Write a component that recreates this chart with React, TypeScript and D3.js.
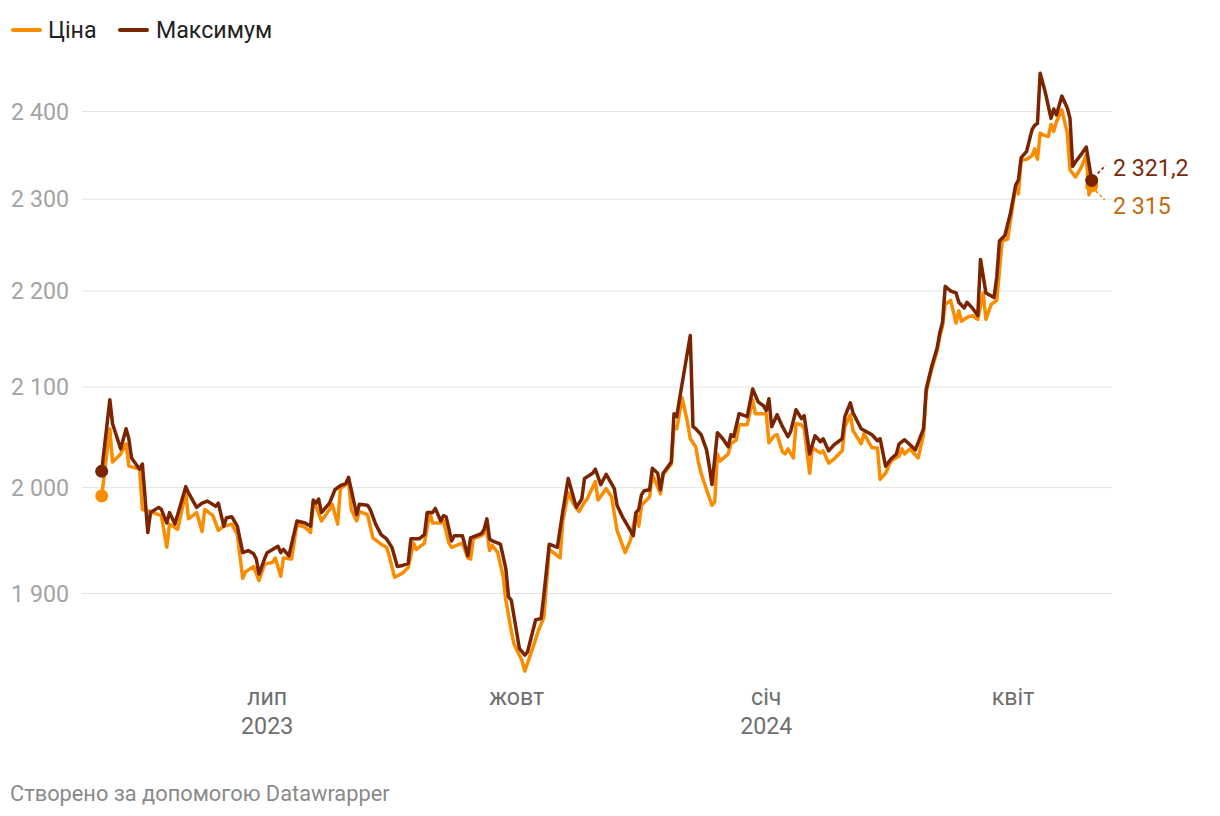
import React from "react";
import * as d3 from "d3";

// ---------- DATA ----------
const seriesNames = ["Ціна", "Максимум"];

const maxDates = [
  "2023-05-01","2023-05-04","2023-05-05","2023-05-08","2023-05-10","2023-05-11","2023-05-12","2023-05-15","2023-05-16","2023-05-18",
  "2023-05-19","2023-05-22","2023-05-23","2023-05-25","2023-05-26","2023-05-28","2023-06-01","2023-06-02","2023-06-05","2023-06-07",
  "2023-06-09","2023-06-12","2023-06-13","2023-06-15","2023-06-16","2023-06-18","2023-06-20","2023-06-22","2023-06-24","2023-06-26",
  "2023-06-27","2023-06-28","2023-06-30","2023-07-01","2023-07-03","2023-07-05","2023-07-06","2023-07-07","2023-07-09","2023-07-12",
  "2023-07-15","2023-07-17","2023-07-18","2023-07-19","2023-07-20","2023-07-21","2023-07-24","2023-07-26","2023-07-28","2023-07-30",
  "2023-07-31","2023-08-01","2023-08-03","2023-08-04","2023-08-07","2023-08-08","2023-08-10","2023-08-12","2023-08-14","2023-08-16",
  "2023-08-18","2023-08-20","2023-08-22","2023-08-23","2023-08-26","2023-08-28","2023-08-29","2023-08-31","2023-09-01","2023-09-03",
  "2023-09-04","2023-09-05","2023-09-07","2023-09-08","2023-09-11","2023-09-13","2023-09-14","2023-09-18","2023-09-19","2023-09-20",
  "2023-09-21","2023-09-22","2023-09-25","2023-09-27","2023-09-28","2023-09-29","2023-10-02","2023-10-04","2023-10-05","2023-10-08",
  "2023-10-10","2023-10-11","2023-10-13","2023-10-16","2023-10-18","2023-10-20","2023-10-22","2023-10-23","2023-10-25","2023-10-26",
  "2023-10-29","2023-10-30","2023-11-01","2023-11-03","2023-11-06","2023-11-07","2023-11-09","2023-11-11","2023-11-13","2023-11-14",
  "2023-11-15","2023-11-16","2023-11-17","2023-11-19","2023-11-20","2023-11-22","2023-11-23","2023-11-24","2023-11-27","2023-11-28",
  "2023-11-29","2023-11-30","2023-12-02","2023-12-04","2023-12-05","2023-12-06","2023-12-08","2023-12-10","2023-12-11","2023-12-12",
  "2023-12-13","2023-12-14","2023-12-16","2023-12-18","2023-12-19","2023-12-20","2023-12-22","2023-12-24","2023-12-25","2023-12-27",
  "2023-12-29","2023-12-31","2024-01-01","2024-01-02","2024-01-03","2024-01-05","2024-01-07","2024-01-09","2024-01-10","2024-01-12",
  "2024-01-14","2024-01-15","2024-01-17","2024-01-19","2024-01-21","2024-01-22","2024-01-24","2024-01-26","2024-01-29","2024-01-30",
  "2024-02-01","2024-02-02","2024-02-05","2024-02-07","2024-02-09","2024-02-11","2024-02-12","2024-02-14","2024-02-16","2024-02-18",
  "2024-02-19","2024-02-21","2024-02-23","2024-02-25","2024-02-28","2024-02-29","2024-03-02","2024-03-04","2024-03-05","2024-03-06",
  "2024-03-07","2024-03-09","2024-03-11","2024-03-12","2024-03-14","2024-03-15","2024-03-17","2024-03-19","2024-03-20","2024-03-22",
  "2024-03-25","2024-03-26","2024-03-27","2024-03-29","2024-03-31","2024-04-01","2024-04-02","2024-04-03","2024-04-04","2024-04-06",
  "2024-04-08","2024-04-09","2024-04-10","2024-04-11","2024-04-13","2024-04-15","2024-04-16","2024-04-17","2024-04-19","2024-04-21",
  "2024-04-22","2024-04-23","2024-04-24","2024-04-26","2024-04-28","2024-04-30"
];
const maxValues = [
  2016,2087,2063,2038,2058,2048,2029,2018,2023,1957,
  1976,1981,1979,1966,1976,1965,2001,1995,1981,1985,
  1987,1982,1985,1963,1971,1972,1963,1938,1940,1937,
  1932,1918,1932,1938,1941,1944,1938,1941,1935,1968,
  1966,1963,1988,1985,1989,1976,1985,1998,2002,2004,
  2010,1998,1974,1984,1983,1979,1965,1955,1951,1943,
  1925,1926,1928,1951,1951,1955,1976,1976,1980,1968,
  1973,1972,1949,1954,1954,1935,1952,1956,1960,1970,
  1951,1949,1946,1923,1897,1894,1850,1844,1847,1876,
  1877,1898,1946,1943,1977,2009,1990,1981,1989,2009,
  2014,2018,2003,2013,1999,1983,1972,1963,1954,1976,
  1979,1993,1997,1998,2019,2014,1998,2014,2025,2073,
  2070,2087,2120,2153,2060,2058,2052,2037,2021,2003,
  2028,2054,2048,2040,2052,2050,2073,2071,2070,2098,
  2085,2081,2076,2088,2060,2072,2060,2050,2055,2077,
  2068,2071,2033,2051,2045,2048,2036,2042,2048,2070,
  2084,2074,2058,2055,2052,2046,2048,2021,2028,2033,
  2043,2047,2042,2037,2058,2098,2121,2140,2156,2167,
  2205,2200,2198,2188,2182,2188,2182,2174,2234,2198,
  2193,2215,2254,2260,2284,2300,2316,2322,2347,2354,
  2379,2384,2386,2445,2421,2392,2403,2396,2418,2404,
  2392,2337,2342,2350,2359,2321.2
];

const priceDates = [
  "2023-05-01","2023-05-04","2023-05-05","2023-05-08","2023-05-10","2023-05-11","2023-05-15","2023-05-16","2023-05-19","2023-05-23",
  "2023-05-25","2023-05-26","2023-05-29","2023-06-01","2023-06-02","2023-06-05","2023-06-07","2023-06-08","2023-06-11","2023-06-13",
  "2023-06-15","2023-06-18","2023-06-20","2023-06-22","2023-06-23","2023-06-26","2023-06-28","2023-06-30","2023-07-03","2023-07-04",
  "2023-07-06","2023-07-07","2023-07-10","2023-07-12","2023-07-15","2023-07-17","2023-07-18","2023-07-19","2023-07-21","2023-07-24",
  "2023-07-25","2023-07-27","2023-07-28","2023-07-30","2023-07-31","2023-08-01","2023-08-03","2023-08-04","2023-08-07","2023-08-09",
  "2023-08-12","2023-08-14","2023-08-15","2023-08-17","2023-08-20","2023-08-22","2023-08-24","2023-08-25","2023-08-28","2023-08-30",
  "2023-08-31","2023-09-03","2023-09-04","2023-09-06","2023-09-07","2023-09-10","2023-09-11","2023-09-13","2023-09-14","2023-09-15",
  "2023-09-18","2023-09-20","2023-09-21","2023-09-22","2023-09-24","2023-09-26","2023-09-27","2023-09-29","2023-09-30","2023-10-03",
  "2023-10-04","2023-10-07","2023-10-09","2023-10-11","2023-10-13","2023-10-15","2023-10-17","2023-10-18","2023-10-20","2023-10-22",
  "2023-10-24","2023-10-26","2023-10-27","2023-10-30","2023-10-31","2023-11-03","2023-11-05","2023-11-07","2023-11-10","2023-11-12",
  "2023-11-14","2023-11-15","2023-11-16","2023-11-19","2023-11-20","2023-11-23","2023-11-24","2023-11-27","2023-11-28","2023-11-29",
  "2023-12-01","2023-12-03","2023-12-04","2023-12-06","2023-12-07","2023-12-08","2023-12-10","2023-12-12","2023-12-13","2023-12-14",
  "2023-12-15","2023-12-18","2023-12-19","2023-12-21","2023-12-22","2023-12-25","2023-12-27","2023-12-28","2024-01-01","2024-01-02",
  "2024-01-04","2024-01-05","2024-01-07","2024-01-08","2024-01-09","2024-01-11","2024-01-12","2024-01-14","2024-01-15","2024-01-17",
  "2024-01-18","2024-01-21","2024-01-22","2024-01-24","2024-01-26","2024-01-29","2024-01-30","2024-02-01","2024-02-02","2024-02-05",
  "2024-02-06","2024-02-09","2024-02-11","2024-02-12","2024-02-14","2024-02-16","2024-02-19","2024-02-20","2024-02-21","2024-02-23",
  "2024-02-26","2024-02-28","2024-02-29","2024-03-02","2024-03-04","2024-03-05","2024-03-06","2024-03-07","2024-03-09","2024-03-11",
  "2024-03-12","2024-03-13","2024-03-15","2024-03-17","2024-03-19","2024-03-21","2024-03-22","2024-03-24","2024-03-26","2024-03-28",
  "2024-03-30","2024-04-01","2024-04-02","2024-04-03","2024-04-04","2024-04-06","2024-04-08","2024-04-09","2024-04-10","2024-04-11",
  "2024-04-12","2024-04-14","2024-04-15","2024-04-16","2024-04-17","2024-04-19","2024-04-21","2024-04-22","2024-04-24","2024-04-26",
  "2024-04-28","2024-04-29","2024-04-30"
];
const priceValues = [
  1992,2058,2025,2033,2043,2021,2018,1979,1977,1973,
  1943,1965,1960,1995,1970,1976,1958,1979,1973,1959,
  1963,1965,1955,1914,1920,1925,1912,1927,1929,1933,
  1916,1933,1932,1965,1962,1957,1985,1982,1968,1979,
  1984,1965,1999,2003,2007,1979,1968,1977,1974,1952,
  1946,1943,1935,1915,1919,1924,1947,1941,1947,1976,
  1966,1966,1968,1947,1943,1946,1947,1933,1932,1951,
  1954,1959,1940,1945,1938,1916,1894,1866,1854,1839,
  1830,1851,1866,1878,1941,1937,1933,1968,1995,1984,
  1977,1986,1989,2006,1988,1999,1991,1959,1938,1950,
  1976,1963,1983,1991,2013,1994,2013,2023,2060,2058,
  2089,2064,2048,2040,2025,2014,1998,1983,1986,2033,
  2026,2033,2043,2047,2062,2062,2087,2073,2073,2044,
  2051,2052,2035,2033,2038,2029,2063,2062,2058,2014,
  2039,2034,2036,2024,2028,2036,2060,2072,2056,2043,
  2053,2039,2039,2008,2014,2026,2031,2038,2033,2038,
  2029,2052,2095,2118,2137,2152,2163,2186,2190,2166,
  2179,2168,2172,2174,2170,2198,2170,2186,2190,2254,
  2256,2295,2316,2306,2344,2345,2349,2357,2345,2375,
  2373,2371,2385,2377,2388,2402,2375,2333,2325,2335,
  2350,2305,2315
];

const yTicks = [1900, 2000, 2100, 2200, 2300, 2400];
const xTickDates = ["2023-07-01", "2023-10-01", "2024-01-01", "2024-04-01"];
const xTickMonths = ["лип", "жовт", "січ", "квіт"];
const xTickYears = ["2023", "", "2024", ""];
const footerText = "Створено за допомогою Datawrapper";

// ---------- STYLE ----------
const COLOR_PRICE = "#fa8c00";
const COLOR_MAX = "#7a2400";
const LABEL_PRICE = "#c46a10";
const LABEL_MAX = "#7a2a0b";
const FONT = "Roboto, 'Noto Sans', sans-serif";
const FS = 23.2;

export default function App() {
  const parse = d3.utcParse("%Y-%m-%d");
  const W = 1220, H = 816;

  const x = d3
    .scaleUtc()
    .domain([parse("2023-05-01") as Date, parse("2024-04-30") as Date])
    .range([101.7, 1091.7]);
  const y = d3.scaleLog().domain([1900, 2400]).range([593.5, 111.5]);

  const loc = d3.formatLocale({
    decimal: ",",
    thousands: " ",
    grouping: [3],
    currency: ["", ""],
  });
  const fmtInt = loc.format(",");
  const fmtDec = loc.format(",.1f");

  const maxData = maxDates.map((d, i) => ({ date: parse(d) as Date, v: maxValues[i] }));
  const priceData = priceDates.map((d, i) => ({ date: parse(d) as Date, v: priceValues[i] }));

  const line = d3
    .line<{ date: Date; v: number }>()
    .x((d) => x(d.date))
    .y((d) => y(d.v));

  const gridX0 = 82;
  const gridX1 = 1112;

  const pFirst = priceData[0];
  const pLast = priceData[priceData.length - 1];
  const mFirst = maxData[0];
  const mLast = maxData[maxData.length - 1];

  const mLastLabel = Number.isInteger(mLast.v) ? fmtInt(mLast.v) : fmtDec(mLast.v);
  const pLastLabel = Number.isInteger(pLast.v) ? fmtInt(pLast.v) : fmtDec(pLast.v);

  const mLx = x(mLast.date);
  const mLy = y(mLast.v);
  const pLx = x(pLast.date);
  const pLy = y(pLast.v);

  return (
    <svg
      width={W}
      height={H}
      style={{ position: "absolute", left: 0, top: 0, background: "#fff", fontFamily: FONT }}
    >
      {/* Legend */}
      <g>
        <line x1={13} x2={40} y1={30} y2={30} stroke={COLOR_PRICE} strokeWidth={4} strokeLinecap="round" />
        <text x={48} y={30} dominantBaseline="central" fontSize={FS} fill="#222">
          {seriesNames[0]}
        </text>
        <line x1={120} x2={147} y1={30} y2={30} stroke={COLOR_MAX} strokeWidth={4} strokeLinecap="round" />
        <text x={156} y={30} dominantBaseline="central" fontSize={FS} fill="#222">
          {seriesNames[1]}
        </text>
      </g>

      {/* Y grid + labels */}
      <g>
        {yTicks.map((t) => (
          <g key={t}>
            <line x1={gridX0} x2={gridX1} y1={y(t)} y2={y(t)} stroke="#e3e3e3" strokeWidth={1} />
            <text
              x={69}
              y={y(t)}
              textAnchor="end"
              dominantBaseline="central"
              fontSize={FS}
              fill="#a3a3a3"
            >
              {fmtInt(t)}
            </text>
          </g>
        ))}
      </g>

      {/* X labels */}
      <g>
        {xTickDates.map((d, i) => {
          const xx = x(parse(d) as Date);
          return (
            <g key={d}>
              <text x={xx} y={697} textAnchor="middle" dominantBaseline="central" fontSize={FS} fill="#6e6e6e">
                {xTickMonths[i]}
              </text>
              {xTickYears[i] && (
                <text x={xx} y={726} textAnchor="middle" dominantBaseline="central" fontSize={FS} fill="#6e6e6e">
                  {xTickYears[i]}
                </text>
              )}
            </g>
          );
        })}
      </g>

      {/* Lines */}
      <path d={line(priceData) || ""} fill="none" stroke={COLOR_PRICE} strokeWidth={3.5} strokeLinejoin="round" strokeLinecap="round" />
      <path d={line(maxData) || ""} fill="none" stroke={COLOR_MAX} strokeWidth={3.5} strokeLinejoin="round" strokeLinecap="round" />

      {/* Start dots */}
      <circle cx={x(pFirst.date)} cy={y(pFirst.v)} r={6.5} fill={COLOR_PRICE} />
      <circle cx={x(mFirst.date)} cy={y(mFirst.v)} r={6.5} fill={COLOR_MAX} />

      {/* End dots */}
      <circle cx={pLx} cy={pLy} r={6.5} fill={COLOR_PRICE} />
      <circle cx={mLx} cy={mLy} r={6.5} fill={COLOR_MAX} />

      {/* End labels with leader lines */}
      <line x1={mLx + 6} y1={mLy - 7} x2={mLx + 14} y2={mLy - 15} stroke={LABEL_MAX} strokeWidth={1.6} strokeDasharray="3,2.5" />
      <text x={1113} y={mLy - 12} dominantBaseline="central" fontSize={FS} fill={LABEL_MAX}>
        {mLastLabel}
      </text>
      <line x1={pLx + 4} y1={pLy + 5} x2={pLx + 13} y2={pLy + 14} stroke={COLOR_PRICE} strokeWidth={1.6} strokeDasharray="3,2.5" />
      <text x={1113} y={pLy + 20} dominantBaseline="central" fontSize={FS} fill={LABEL_PRICE}>
        {pLastLabel}
      </text>

      {/* Footer */}
      <text x={10} y={793} dominantBaseline="central" fontSize={21.8} fill="#8a8a8a">
        {footerText}
      </text>
    </svg>
  );
}
